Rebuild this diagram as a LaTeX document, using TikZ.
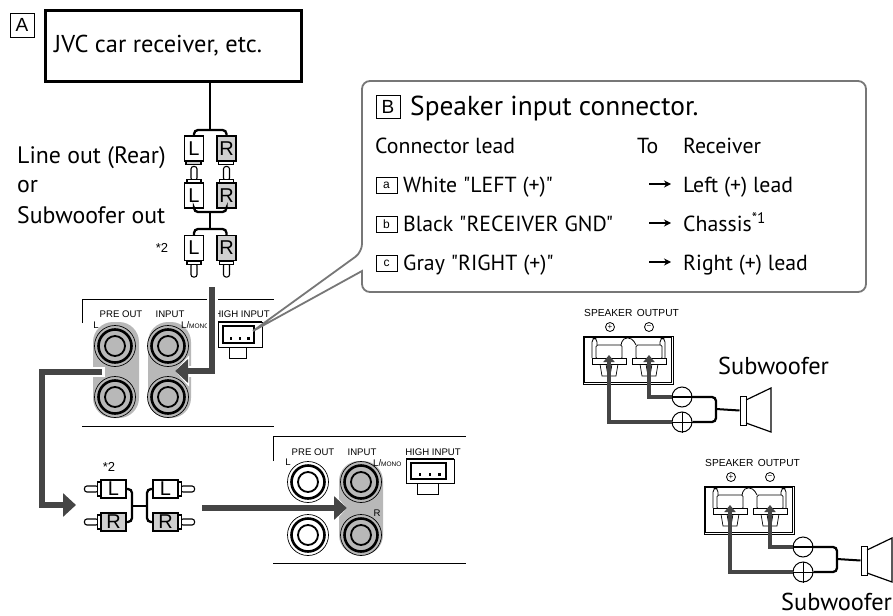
\documentclass[tikz,border=0pt]{standalone}
\usepackage{fontspec}
\setmainfont{PT Sans}
\newfontfamily\plainfont{PT Sans}
\newfontfamily\panelfont{Liberation Sans}
\usetikzlibrary{arrows.meta, positioning}
\definecolor{cFeed}{HTML}{454545}
\definecolor{cPill}{HTML}{B8B8B8}
\definecolor{cPlug}{HTML}{CFCFCF}
\definecolor{cBubble}{HTML}{777777}
\tikzset{
  caption/.style = {
    anchor=base west,
    inner sep=0pt,
    font=\fontsize{23.8}{26}\selectfont
  },
  leadtext/.style = {
    caption,
    font=\plainfont\fontsize{21.8}{24}\selectfont
  },
  paneltext/.style = {
    inner sep=0pt,
    font=\panelfont\fontsize{9.6}{10}\selectfont
  },
  speakertext/.style = {
    paneltext,
    font=\panelfont\fontsize{10.2}{11}\selectfont
  },
  startext/.style = {
    paneltext,
    font=\panelfont\fontsize{13}{13}\selectfont
  },
  letterbox/.style = {
    draw,
    line width=.7pt,
    inner sep=0pt,
    minimum width=24pt,
    minimum height=24pt,
    font=\panelfont\fontsize{19}{20}\selectfont
  },
  smallbox/.style = {
    letterbox,
    minimum width=21pt,
    minimum height=16pt,
    font=\panelfont\fontsize{12}{12}\selectfont
  },
  plugv/.style = {
    draw,
    line width=1.1pt,
    fill=white,
    inner sep=0pt,
    minimum width=19pt,
    minimum height=25pt,
    font=\panelfont\fontsize{20}{20}\selectfont
  },
  plugh/.style = {
    plugv,
    minimum width=25pt,
    minimum height=18pt
  },
  grayplug/.style = {
    fill=cPlug
  },
  wire/.style = {
    draw,
    line width=2.3pt,
    rounded corners=4pt
  },
  feed/.style = {
    draw=cFeed,
    line width=6pt,
    -{Triangle[length=13pt,width=23pt,fill=cFeed]}
  },
  feedhalo/.style = {
    draw=white,
    line width=11pt,
    -{Triangle[length=14pt,width=30pt,fill=white]}
  },
  springfeed/.style = {
    draw=cFeed,
    line width=3.5pt,
    -{Triangle[length=7pt,width=11pt,fill=cFeed]}
  },
  leadarrow/.style = {
    draw,
    line width=1.5pt,
    -{Stealth[length=7pt,width=7pt]}
  },
  polarity/.style = {
    circle,
    draw,
    fill=white,
    line width=1pt,
    minimum size=20pt,
    inner sep=0pt
  },
}
% jack: name, centre, fill of the rings
\newcommand{\rcajack}[3]{
  \node [circle, draw, line width=.7pt, fill=#3, minimum size=41pt, inner sep=0pt] (#1) at (#2) {};
  \node [circle, draw, line width=2.6pt, fill=#3, minimum size=33pt, inner sep=0pt] at (#1) {};
  \node [circle, draw, line width=1.8pt, fill=#3, minimum size=20pt, inner sep=0pt] at (#1) {};
}
% collar and pin of a plug, pointing along the given angle
\newcommand{\rcapin}[2]{
  \begin{scope}[shift={(#1)}, rotate=#2, line width=1.1pt]
    \draw [fill=white, rounded corners=2.5pt] (2,-3) rectangle (16,3);
    \draw [fill=white] (0,-7) rectangle (3,7);
  \end{scope}
}
% connector housing on the panel: left, top, right, bottom
\newcommand{\highinput}[4]{
  \draw [line width=.8pt] (#1+11,#4) rectangle (#3-16,#4+11);
  \draw [line width=.8pt, fill=white] (#1,#2) rectangle (#3,#4);
  \draw [line width=1.8pt] (#1,#2) -- (#3,#2);
  \draw [line width=1.1pt] (#1+5,#2+4) rectangle (#3-8,#4-4);
  \foreach \d in {.22,.5,.78}
    \fill ({#1+5+\d*(#3-#1-13)},#4-10) rectangle +(2.5,2.5);
}
% one output terminal
\newcommand{\spkterminal}[1]{
  \begin{scope}[shift={(#1,0)}, line width=.7pt]
    \draw [rounded corners=1.5pt, fill=white] (-13,345) rectangle (13,359);
    \draw (-9,364) -- (-7,376) -- (-1,376) -- (-3,364);
    \draw (9,364) -- (7,376) -- (1,376) -- (3,364);
    \draw [line width=.8pt, fill=white] (-17,358) rectangle (17,364);
  \end{scope}
}
% panel output with its speaker
\newcommand{\subwooferset}[3]{
  \begin{scope}[shift={(#2,#3)}]
    \node [speakertext, anchor=base west] (#1-title) at (584,316) {SPEAKER\, OUTPUT};
    \node [circle, draw, line width=.8pt, minimum size=9pt, inner sep=0pt, font=\panelfont\fontsize{8}{8}\selectfont] (#1-plus) at (610,327) {+};
    \node [circle, draw, line width=.8pt, minimum size=9pt, inner sep=0pt, font=\panelfont\fontsize{8}{8}\selectfont] (#1-minus) at (649,327) {\textminus};
    \draw [line width=.8pt] (583,336) rectangle (673,384);
    \draw [line width=.8pt] (584.5,337.5) rectangle (671.5,382);
    \draw [line width=.8pt, rounded corners=4pt] (592,358) -- (592,338) -- (597,338) -- (597,345);
    \draw [line width=.8pt, rounded corners=4pt] (621,345) -- (623,338) -- (632,338) -- (636,345);
    \draw [line width=.8pt, rounded corners=4pt] (665,358) -- (665,338) -- (660,338) -- (660,345);
    \spkterminal{609}
    \spkterminal{649}
    \coordinate (#1-tip-p) at (609,355);
    \coordinate (#1-tip-n) at (649,355);
    \node [polarity] (#1-pos) at (682,422) {};
    \node [polarity] (#1-neg) at (682,397) {};
    \draw [springfeed] (#1-pos.west) -| (#1-tip-p);
    \draw [springfeed] (#1-neg.west) -| (#1-tip-n);
    \draw [line width=1pt] (#1-pos.west) -- (#1-pos.east) (#1-pos.north) -- (#1-pos.south);
    \draw [line width=1.8pt] (#1-neg.west) -- (#1-neg.east);
    \node [draw, line width=1pt, minimum width=6pt, minimum height=29pt, inner sep=0pt] (#1-magnet) at (743,410.5) {};
    \draw [line width=1.2pt] (746,400) -- (771,388) -- (771,432) -- (746,423);
    \coordinate (#1-join) at (716,409);
    \draw [wire] (#1-neg.east) -| (#1-join) |- (#1-pos.east);
    \draw [line width=2pt] (#1-join) -- (#1-magnet.west);
  \end{scope}
}
\begin{document}
\begin{tikzpicture}[x=1pt, y=-1pt]
  \useasboundingbox (0,0) rectangle (893,615);
  \node [letterbox] (box-a) at (22,25) {A};
  \node [draw, line width=3pt, minimum width=256pt, minimum height=71pt, inner sep=0pt] (recv) at (173,46.5) {};
  \node [caption, font=\fontsize{24.4}{26}\selectfont] (recv-text) at (54,53) {JVC car receiver, etc.};
  \node [caption] (line-1) at (17,163) {Line out (Rear)};
  \node [caption] (line-2) at (17,192) {or};
  \node [caption] (line-3) at (17,223) {Subwoofer out};
  \node [startext] (star-a) at (162,248) {*2};
  % plugs on the lead
  \node [plugv] (pL1) at (194,148.5) {L};
  \node [plugv, grayplug] (pR1) at (226.5,148.5) {R};
  \draw [line width=1.1pt, fill=cPlug] (pL1.south west) ++(2,0) rectangle ++(15,3);
  \draw [line width=1.1pt, fill=white] (pR1.south west) ++(2,0) rectangle ++(15,3);
  \node [plugv] (pL2) at (194,195.5) {L};
  \node [plugv, grayplug] (pR2) at (226.5,195.5) {R};
  \rcapin{pL2.north}{90}
  \rcapin{pR2.north}{90}
  \node [plugv] (pL3) at (194,248) {L};
  \node [plugv, grayplug] (pR3) at (226.5,248) {R};
  \rcapin{pL3.south}{-90}
  \rcapin{pR3.south}{-90}
  \coordinate (fork-1) at (210,130);
  \coordinate (fork-2) at (210,212);
  \coordinate (fork-3) at (210,229);
  \draw [wire] (pL1.north) |- (fork-1) -| (pR1.north);
  \draw [wire] (pL2.south) |- (fork-2) -| (pR2.south);
  \draw [wire] (pL3.north) |- (fork-3) -| (pR3.north);
  \draw [line width=2.3pt] (recv.south -| fork-1) -- (fork-1);
  \draw [line width=2.3pt] (fork-2) -- (fork-3);
  % first panel
  \draw [line width=.8pt] (82,323) |- (274,299);
  \draw [line width=.8pt] (82,426) -- (274,426);
  \fill [cPill, rounded corners=20pt] (93,322) rectangle (139,418);
  \fill [cPill, rounded corners=20pt] (148,322) rectangle (191,418);
  \rcajack{jack-po1}{115,346}{cPill}
  \rcajack{jack-po2}{115,397}{cPill}
  \rcajack{jack-in1}{168,346}{cPill}
  \rcajack{jack-in2}{168,397}{cPill}
  \node [paneltext] (po-text) at (121,314.5) {PRE OUT};
  \node [paneltext] (in-text) at (170,314.5) {INPUT};
  \node [paneltext] (hi-text) at (242,314.5) {HIGH INPUT};
  \node [paneltext] (l-text) at (96,325) {L};
  \node [paneltext, anchor=west] (mono-text) at (181,325) {L/{\fontsize{6.5}{7}\selectfont MONO}};
  \node [paneltext] (r-text) at (96,376) {..};
  \highinput{218}{322}{262}{347}
  % second panel
  \draw [line width=.8pt] (273,461) |- (466,436);
  \draw [line width=.8pt] (273,563) -- (466,563);
  \fill [cPill, rounded corners=20pt] (339,461) rectangle (383,555);
  \rcajack{jack-po3}{308,482}{white}
  \rcajack{jack-po4}{308,535}{white}
  \rcajack{jack-in3}{361,482}{cPill}
  \rcajack{jack-in4}{361,535}{cPill}
  \node [paneltext] (po2-text) at (313,452) {PRE OUT};
  \node [paneltext] (in2-text) at (362,452) {INPUT};
  \node [paneltext] (hi2-text) at (433,452) {HIGH INPUT};
  \node [paneltext] (l2-text) at (288,462) {L};
  \node [paneltext, anchor=west] (mono2-text) at (373,463) {L/{\fontsize{6.5}{7}\selectfont MONO}};
  \node [paneltext] (r2-text) at (377,513) {R};
  \node [paneltext] (dots-text) at (288,512) {..};
  \highinput{406}{459}{454}{483}
  % adapter between the panels
  \node [startext] (star-b) at (109,467) {*2};
  \node [plugh] (aL1) at (113.5,489) {L};
  \node [plugh, grayplug] (aR1) at (113.5,522) {R};
  \node [plugh] (aL2) at (165.5,489) {L};
  \node [plugh, grayplug] (aR2) at (165.5,522) {R};
  \rcapin{aL1.west}{180}
  \rcapin{aR1.west}{180}
  \rcapin{aL2.east}{0}
  \rcapin{aR2.east}{0}
  \coordinate (bar-l) at (132,506);
  \coordinate (bar-r) at (147,506);
  \draw [wire] (aL1.east) -| (bar-l) |- (aR1.east);
  \draw [wire] (aL2.west) -| (bar-r) |- (aR2.west);
  \draw [line width=2.3pt] (bar-l) -- (bar-r);
  % routing arrows
  \coordinate (feed-a) at (212,287);
  \coordinate (feed-a-tip) at (175,371);
  \coordinate (feed-b) at (102,372);
  \coordinate (feed-b-tip) at (76,505);
  \coordinate (feed-c) at (202,508);
  \coordinate (feed-c-tip) at (347,508);
  \draw [feedhalo] (feed-a) |- (feed-a-tip);
  \draw [feedhalo] (feed-c) -- (feed-c-tip);
  \draw [draw=white, line width=10pt] (105,372) -- (80,372);
  \draw [feed] (feed-a) |- (feed-a-tip);
  \draw [feed] (feed-b) -| (42,505) -- (feed-b-tip);
  \draw [feed] (feed-c) -- (feed-c-tip);
  % callout
  \draw [draw=cBubble, line width=1.8pt, fill=white, rounded corners=8pt]
    (362,252) [sharp corners] -- (253,331) -- (362,271) [rounded corners=8pt] -- (362,292) -- (866,292) -- (866,81) -- (362,81) -- cycle;
  \node [letterbox, minimum height=23pt] (box-b) at (388,106.5) {B};
  \node [caption, font=\fontsize{27.4}{30}\selectfont] (title) at (410,115) {Speaker input connector.};
  \node [leadtext] (head-1) at (375,153) {Connector lead};
  \node [leadtext] (head-2) at (637,153) {To};
  \node [leadtext] (head-3) at (683,153) {Receiver};
  \foreach \name/\y/\from/\to in {a/192/White "LEFT (+)"/Left (+) lead, b/231/Black "RECEIVER GND"/Chassis\textsuperscript{*1}, c/270/Gray "RIGHT (+)"/Right (+) lead} {
    \node [smallbox] (box-\name) at (386.5,\y-6.5) {\name};
    \node [leadtext] (from-\name) at (403,\y) {\from};
    \node [leadtext] (to-\name) at (683,\y) {\to};
    \coordinate (arrow-\name) at (649,\y-8);
    \coordinate (head-\name) at (671,\y-8);
    \draw [leadarrow] (arrow-\name) -- (head-\name);
  }
  % subwoofers
  \subwooferset{first}{0}{0}
  \subwooferset{second}{121}{150}
  \node [caption, font=\fontsize{24.4}{28}\selectfont] (sub-1) at (718,374) {Subwoofer};
  \node [caption, font=\fontsize{24.4}{28}\selectfont] (sub-2) at (781,610) {Subwoofer};
\end{tikzpicture}
\end{document}
